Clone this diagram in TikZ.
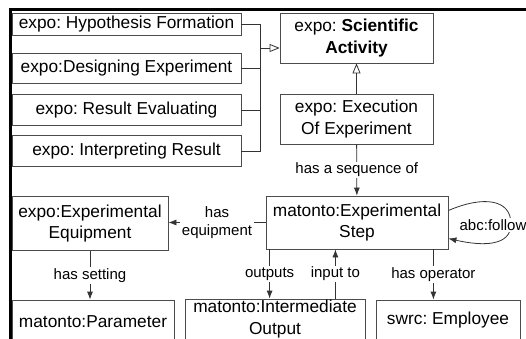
\documentclass[tikz,border=0pt]{standalone}
\usepackage{fontspec}
\setmainfont{Liberation Sans}
\frenchspacing
\usetikzlibrary{arrows.meta}

\begin{document}
\begin{tikzpicture}[x=1pt, y=-1pt, >={Latex[length=8pt,width=6pt]},
  cls/.style={draw=black!70, line width=0.8pt, align=center, inner sep=1pt,
    font=\fontsize{17.3}{21.6}\selectfont},
  lbl/.style={fill=white, inner sep=1.5pt, align=center,
    font=\fontsize{15}{18}\selectfont},
  link/.style={draw=black!80, line width=0.8pt},
  rel/.style={link, ->},
  gen/.style={link, -{Triangle[open,length=10pt,width=8pt]}}]
  \useasboundingbox (0,0) rectangle (526,339);
  \clip (0,0) rectangle (526,339);
  % frame
  \fill[black] (8.5,8.5) rectangle (526,11.5);
  \fill[black] (8.5,8.5) rectangle (11.5,339);
  % sub activities
  \node[cls, minimum width=229pt, minimum height=22pt] (hyp) at (126.5,24) {expo: Hypothesis Formation};
  \node[cls, minimum width=229pt, minimum height=30pt] (des) at (126.5,68.5) {expo:Designing Experiment};
  \node[cls, minimum width=229pt, minimum height=31pt] (res) at (126.5,110) {expo: Result Evaluating};
  \node[cls, minimum width=229pt, minimum height=31pt] (int) at (126.5,151) {expo: Interpreting Result};
  % activity and execution
  \node[cls, minimum width=153pt, minimum height=50pt] (sci) at (356.5,38) {expo: \textbf{Scientific}\\\textbf{Activity}};
  \node[cls, minimum width=153pt, minimum height=50pt] (exe) at (356.5,119) {expo: Execution\\Of Experiment};
  \node[cls, minimum width=182pt, minimum height=53pt] (step) at (357,222.5) {matonto:Experimental\\Step};
  % related classes
  \node[cls, minimum width=156pt, minimum height=54pt] (equip) at (90,223.5) {expo:Experimental\\Equipment};
  \node[cls, minimum width=162pt, minimum height=44pt] (param) at (93,322) {matonto:Parameter};
  \node[cls, minimum width=180pt, minimum height=40pt] (inter) at (275,319) {matonto:Intermediate\\Output};
  \node[cls, minimum width=144pt, minimum height=40pt] (emp) at (448,320) {swrc: Employee};
  % generalisation
  \coordinate (bus) at (260,48);
  \foreach \n in {hyp,des,res,int}
    \draw[link] (\n.east) -| (bus);
  \draw[gen] (bus) -- (bus -| sci.west);
  \draw[gen] (exe) -- (sci);
  % relations
  \draw[rel] (exe) -- (step) node[lbl, midway] {has a sequence of};
  \draw[rel] (step.west) -- (step.west -| equip.east) node[lbl, midway] {has\\equipment};
  \draw[rel] (equip.south) -- (equip.south |- param.north) node[lbl, midway] {has setting};
  \coordinate (out) at ([xshift=4pt]step.south west);
  \draw[rel] (out) -- (out |- inter.north) node[lbl, midway] {outputs};
  \coordinate (in) at ([xshift=-30pt]inter.north east);
  \draw[rel] (in) -- (in |- step.south) node[lbl, midway] {input to};
  \coordinate (op) at ([xshift=-15pt]step.south east);
  \draw[rel] (op) -- (op |- emp.north) node[lbl, midway] {has operator};
  % self loop
  \draw[rel] ([yshift=12pt]step.east) .. controls +(35,-15) and +(0,-25) .. (511,224)
    .. controls +(0,22) and +(35,8) .. ([yshift=-16pt]step.east);
  \node[lbl] (follow) at (493,225) {abc:follow};
\end{tikzpicture}
\end{document}
